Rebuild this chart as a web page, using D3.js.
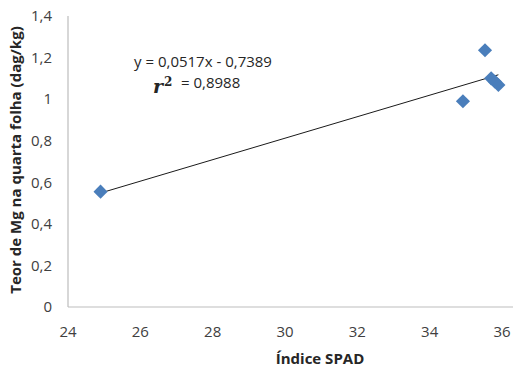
<!DOCTYPE html>
<html>
<head>
<meta charset="utf-8">
<script src="https://cdn.jsdelivr.net/npm/d3@7"></script>
<style>
  html, body { margin: 0; padding: 0; background: #fff; }
  svg { display: block; }
  text { font-family: "Open Sans", "Liberation Sans", sans-serif; }
</style>
</head>
<body>
<svg id="chart" width="513" height="368"></svg>
<script>
// SPAD index readings and Mg content in the fourth leaf
const spad = [24.9, 34.92, 35.53, 35.7, 35.8, 35.9];
const mg = [0.555, 0.99, 1.235, 1.10, 1.085, 1.068];
const xTicks = [24, 26, 28, 30, 32, 34, 36];
const yTicks = [0, 0.2, 0.4, 0.6, 0.8, 1.0, 1.2, 1.4];
const slope = 0.0517, intercept = -0.7389, r2 = 0.8988;

const svg = d3.select("#chart");
const plotL = 68, plotR = 502, plotT = 16, plotB = 307;

const x = d3.scaleLinear().domain([24, 36]).range([plotL, plotR]);
const y = d3.scaleLinear().domain([0, 1.4]).range([plotB, plotT]);
const fmt = v => d3.format(".1f")(v).replace(".", ",").replace(/,0$/, "");

// axis lines
svg.append("line").attr("x1", plotL).attr("x2", plotL).attr("y1", plotT).attr("y2", plotB)
  .attr("stroke", "#bdbdbd").attr("stroke-width", 1.2);
svg.append("line").attr("x1", plotL).attr("x2", 513).attr("y1", plotB).attr("y2", plotB)
  .attr("stroke", "#bdbdbd").attr("stroke-width", 1.2);

// tick labels
svg.append("g").selectAll("text").data(yTicks).join("text")
  .attr("x", 52).attr("y", d => y(d)).attr("dy", "0.35em")
  .attr("text-anchor", "end").attr("font-size", 15).attr("fill", "#404040")
  .text(fmt);
svg.append("g").selectAll("text").data(xTicks).join("text")
  .attr("x", d => x(d)).attr("y", 332).attr("dy", "0.35em")
  .attr("text-anchor", "middle").attr("font-size", 15).attr("fill", "#404040")
  .text(d => d);

// axis titles
svg.append("text").attr("x", 320).attr("y", 359).attr("dy", "0.35em")
  .attr("text-anchor", "middle").attr("font-size", 15).attr("font-weight", "bold")
  .attr("fill", "#262626").text("Índice SPAD");
svg.append("text").attr("transform", "translate(16,160) rotate(-90)").attr("dy", "0.35em")
  .attr("text-anchor", "middle").attr("font-size", 15).attr("font-weight", "bold")
  .attr("fill", "#262626").text("Teor de Mg na quarta folha (dag/kg)");

// linear trend line
const xr = d3.extent(spad);
svg.append("line")
  .attr("x1", x(xr[0])).attr("y1", y(slope * xr[0] + intercept))
  .attr("x2", x(xr[1])).attr("y2", y(slope * xr[1] + intercept))
  .attr("stroke", "#1a1a1a").attr("stroke-width", 1);

// diamond markers
const diamond = d3.symbol().type(d3.symbolSquare).size(100);
svg.append("g").selectAll("path").data(spad.map((v, i) => [v, mg[i]])).join("path")
  .attr("d", diamond)
  .attr("transform", d => `translate(${x(d[0])},${y(d[1])}) rotate(45)`)
  .attr("fill", "#4a7ebb");

// regression equation
svg.append("text").attr("x", 203).attr("y", 62).attr("dy", "0.35em")
  .attr("text-anchor", "middle").attr("font-size", 15).attr("fill", "#262626")
  .text(`y = ${String(slope).replace(".", ",")}x - ${String(-intercept).replace(".", ",")}`);
const r = svg.append("text").attr("x", 153).attr("y", 93).attr("fill", "#262626");
r.append("tspan").attr("font-family", "'DejaVu Serif', 'Liberation Serif', serif")
  .attr("font-style", "italic").attr("font-weight", "bold").attr("font-size", 19).text("r");
r.append("tspan").attr("font-family", "'DejaVu Serif', 'Liberation Serif', serif")
  .attr("font-weight", "bold").attr("font-size", 12).attr("dy", -7).attr("dx", 1).text("2");
svg.append("text").attr("x", 181).attr("y", 83).attr("dy", "0.35em")
  .attr("font-size", 15).attr("fill", "#262626")
  .text(`= ${String(r2).replace(".", ",")}`);
</script>
</body>
</html>
